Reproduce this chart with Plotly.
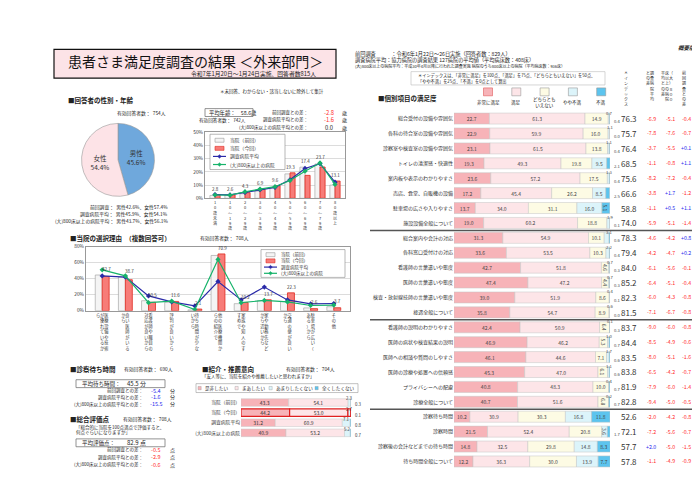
import plotly.graph_objects as go

W, H = 700, 495
FONT = "Noto Sans CJK JP"


def px(x):
    return x / W


def py(y):
    return 1 - y / H


def dx(a, b):
    return [a / W, b / W]


def dy(a, b):
    return [1 - b / H, 1 - a / H]


def vert(label, n=None):
    """Stack characters vertically (Japanese tategaki), columns right-to-left."""
    if n is None:
        n = len(label)
    chunks = [label[i:i + n] for i in range(0, len(label), n)]
    lines = []
    for r in range(n):
        row = ""
        for c in reversed(chunks):
            row += c[r] if r < len(c) else "　"
        lines.append(row)
    return "<br>".join(lines)


# ---------------- data ----------------
gender_labels = ["男性", "女性"]
gender_values = [45.6, 54.4]

age_cats = ["10歳未満", "10～19歳", "20～29歳", "30～39歳", "40～49歳",
            "50～59歳", "60～69歳", "70～79歳", "80歳以上"]
age_prev = [2.2, 2.5, 3.5, 5.5, 8.0, 18.5, 23.6, 26.0, 10.0]
age_now = [2.8, 2.6, 4.3, 6.9, 9.6, 19.3, 17.4, 23.7, 13.1]
age_avg = [2.8, 2.6, 4.5, 6.5, 8.3, 14.0, 22.6, 26.3, 12.2]
age_big = [2.5, 2.4, 5.0, 7.0, 8.8, 13.5, 20.5, 26.8, 10.5]

series_names = ["当院（前回）", "当院（今回）", "調査病院平均", "(大)800床以上の病院"]

reason_cats = ["医療設備や技術が優れているから", "良い医師がいるから", "看護師や職員の対応が良いから",
               "評判が良いから", "待ち時間が少ないから", "他の医療機関からの紹介で",
               "家族や知人のすすめで", "家や勤務先などから近いから", "交通の便が良いから",
               "駐車場が広い（ある）から", "その他"]
reason_prev = [44.6, 42.0, 12.5, 10.5, 1.0, 69.0, 8.8, 12.5, 11.5, 3.5, 5.0]
reason_now = [42.7, 38.7, 10.5, 11.6, 2.1, 70.9, 10.2, 13.7, 22.3, 2.6, 3.7]
reason_avg = [43.4, 42.0, 18.5, 11.0, 6.0, 36.5, 13.5, 29.5, 13.5, 8.5, 9.0]
reason_big = [51.0, 43.5, 10.0, 12.0, 1.5, 64.0, 10.0, 12.8, 11.0, 6.5, 7.0]

rec_rows = ["当院（前回）", "当院（今回）", "調査病院平均", "(大)800床以上の病院"]
rec_names = ["是非したい", "まあしたい", "あまりしたくない", "全くしたくない"]
rec_yes = [43.3, 44.2, 31.2, 40.9]
rec_maybe = [54.1, 53.0, 60.9, 53.2]
rec_rather_not = [2.3, 2.7, 7.1, 5.2]
rec_never = [0.3, 0.1, 0.8, 0.7]

items = ["総合受付の設備や雰囲気", "各科の待合室の設備や雰囲気", "診察室や検査室の設備や雰囲気",
         "トイレの清潔感・快適性", "案内板や表示のわかりやすさ", "売店、食堂、自販機の設備",
         "駐車場の広さや入りやすさ", "施設設備全般について",
         "総合案内や会計の対応", "各科窓口受付けの対応", "看護師の言葉遣いや態度",
         "医師の言葉遣いや態度", "検査・放射線技師の言葉遣いや態度", "接遇全般について",
         "看護師の説明のわかりやすさ", "医師の病状や検査結果の説明", "医師への相談や質問のしやすさ",
         "医師の診療や処置への信頼感", "プライバシーへの配慮", "診療全般について",
         "診察待ち時間", "診察時間", "診察後の会計などまでの待ち時間", "待ち時間全般について"]
group_sizes = [8, 6, 6, 4]
sat_names = ["非常に満足", "満足", "どちらとも<br>いえない", "やや不満", "不満"]
very_sat = [22.7, 22.9, 23.1, 19.3, 23.6, 17.2, 13.7, 19.0,
            31.3, 33.6, 42.7, 47.4, 39.0, 35.8,
            42.4, 46.9, 46.1, 45.3, 40.8, 40.7,
            10.2, 21.5, 14.8, 12.2]
sat = [61.3, 59.9, 61.5, 49.3, 57.2, 45.4, 34.0, 60.2,
       54.9, 53.5, 51.8, 47.2, 51.9, 54.7,
       50.9, 46.2, 44.6, 47.0, 48.3, 51.6,
       30.9, 52.4, 32.5, 36.3]
neutral = [14.9, 16.0, 13.8, 19.8, 17.5, 26.2, 31.1, 18.8,
           10.1, 10.3, 4.6, 4.4, 8.6, 8.9,
           6.4, 5.3, 7.1, 6.1, 10.0, 6.8,
           30.3, 20.8, 29.8, 30.0]
dissat = [0.7, 1.1, 1.1, 9.5, 1.3, 8.5, 16.0, 1.9,
          3.1, 2.2, 0.7, 0.7, 0.4, 0.6,
          0.1, 1.0, 1.7, 1.1, 0.4, 0.2,
          16.8, 3.6, 14.8, 13.9]
very_dissat = [0.4, 0.0, 0.4, 2.1, 0.4, 2.5, 5.1, 0.1,
               0.6, 0.4, 0.3, 0.3, 0.1, 0.0,
               0.3, 0.7, 0.6, 0.6, 0.7, 0.7,
               11.8, 1.7, 8.3, 7.7]
index_vals = [76.3, 75.7, 76.4, 68.5, 75.6, 66.6, 58.8, 74.0,
              78.3, 79.4, 84.0, 85.2, 82.3, 81.5,
              83.7, 84.4, 83.5, 83.8, 81.9, 82.8,
              52.6, 72.1, 57.7, 57.8]
diff_avg = [-6.9, -7.8, -3.7, -1.1, -8.2, -3.8, -1.1, -5.9,
            -4.6, -4.2, -6.1, -6.4, -6.0, -7.1,
            -9.0, -8.5, -8.0, -6.5, -7.9, -9.4,
            -2.0, -7.2, 2.0, -1.1]
diff_big = [-5.1, -7.6, -5.5, -0.8, -7.2, 1.7, 0.5, -5.1,
            -4.2, -4.7, -5.6, -5.1, -4.3, -6.7,
            -6.0, -4.9, -5.1, -4.2, -6.0, -5.0,
            -4.2, -5.6, -5.0, -4.9]
diff_prev = [-0.4, -0.7, 0.1, 1.1, -0.4, -1.2, 1.1, -1.4,
             0.8, 0.2, -0.1, -0.4, -0.8, -0.8,
             -0.8, -0.6, -1.6, -0.7, -1.4, -0.5,
             -0.8, -0.7, -1.5, -0.9]

mean_age, age_diffs = 58.6, [-2.8, -1.6, 0.0]
mean_wait, wait_diffs = 45.5, [-5.4, -1.6, -15.5]
mean_score, score_diffs = 82.9, [-0.5, -2.9, -0.6]

# ---------------- styles ----------------
SAT_COLORS = ["#f7b3b8", "#fde5e8", "#fdfbe4", "#dcf4fa", "#5cc4ee"]
REC_COLORS = ["#f7b3b8", "#fde5e8", "#dcf4fa", "#5cc4ee"]
RED, BLUE = "#ff2a2a", "#2a2aee"
PREV_FILL, PREV_LINE = "#f4f4f4", "#9a9a9a"
NOW_FILL, NOW_LINE = "#f77c78", "#e02a20"
PREV_STYLE = dict(color=PREV_FILL, line=dict(color=PREV_LINE, width=0.6))
NOW_STYLE = dict(color=NOW_FILL, line=dict(color=NOW_LINE, width=0.8))
AVG_COLOR, BIG_COLOR = "#2a2aa8", "#16b36a"

fig = go.Figure()
ann = []
shapes = []


def T(x, y, text, size=5, color="#222", anchor="left", bold=False, **kw):
    if bold:
        text = f"<b>{text}</b>"
    ann.append(dict(x=px(x), y=py(y), xref="paper", yref="paper", text=text,
                    showarrow=False, xanchor=anchor, yanchor="middle",
                    font=dict(size=size, color=color, family=FONT), **kw))


def box(x0, y0, x1, y1, fill="rgba(0,0,0,0)", line="#888", width=0.8, layer="below"):
    shapes.append(dict(type="rect", xref="paper", yref="paper",
                       x0=px(x0), x1=px(x1), y0=py(y1), y1=py(y0),
                       fillcolor=fill, line=dict(color=line, width=width), layer=layer))


def seg(x0, y0, x1, y1, color, width=1.0):
    shapes.append(dict(type="line", xref="paper", yref="paper", x0=px(x0), x1=px(x1),
                       y0=py(y0), y1=py(y1), line=dict(color=color, width=width), layer="above"))


def diamond(cx, cy, r, color):
    path = (f"M {px(cx)},{py(cy - r)} L {px(cx + r)},{py(cy)} "
            f"L {px(cx)},{py(cy + r)} L {px(cx - r)},{py(cy)} Z")
    shapes.append(dict(type="path", xref="paper", yref="paper", path=path,
                       fillcolor=color, line=dict(color=color, width=0.5), layer="above"))


def legend_box(x0, y0, x1, row_h, font=4.8):
    y1 = y0 + row_h * 4 + 3
    box(x0, y0, x1, y1, fill="white", line="#888", width=0.6, layer="above")
    for i, nm in enumerate(series_names):
        yy = y0 + 2 + row_h * (i + 0.5)
        if i == 0:
            box(x0 + 5, yy - 2, x0 + 14, yy + 2, fill=PREV_FILL, line=PREV_LINE, width=0.6, layer="above")
        elif i == 1:
            box(x0 + 5, yy - 2, x0 + 14, yy + 2, fill=NOW_FILL, line=NOW_LINE, width=0.6, layer="above")
        else:
            col = AVG_COLOR if i == 2 else BIG_COLOR
            seg(x0 + 3, yy, x0 + 16, yy, col, 1.2)
            diamond(x0 + 9.5, yy, 1.8, col)
        T(x0 + 18, yy, nm, size=font, color="#333")


def signcol(v, good_low=False):
    if v == 0:
        return "#222"
    neg = v < 0
    if good_low:
        return BLUE if neg else RED
    return RED if neg else BLUE


def fmt(v):
    return f"+{v:.1f}" if v > 0 else f"{v:.1f}"


# ---------------- header / title ----------------
box(46, 38, 328, 67, fill="#fce3e7", line="#111", width=1.2)
T(187, 50, "患者さま満足度調査の結果 ＜外来部門＞", size=14, anchor="center", color="#111")
T(310, 62, "令和7年1月20日～1月24日実施、回答者数815人", size=5.8, anchor="right")
T(318, 81, "＊未回答、わからない・該当しないに除外して集計", size=4.5, anchor="right")
T(58, 89, "■回答者の性別・年齢", size=6.5, bold=True)
T(160, 102, "有効回答者数：  754人", size=4.8, anchor="right")
T(162, 198, "前回調査：  男性42.6%、女性57.4%", size=4.8, anchor="right")
T(162, 205, "調査病院平均：  男性45.9%、女性54.1%", size=4.8, anchor="right")
T(162, 212, "(大)800床以上の病院平均：  男性43.7%、女性56.1%", size=4.8, anchor="right")

# pie
fig.add_trace(go.Pie(
    labels=gender_labels, values=gender_values, sort=False, direction="clockwise",
    marker=dict(colors=["#6fa8dc", "#fde3e7"], line=dict(color="#999", width=0.6)),
    text=[f"{l}<br>{v:.1f}%" for l, v in zip(gender_labels, gender_values)],
    textinfo="text", textposition="inside", insidetextorientation="horizontal",
    textfont=dict(size=6.5, color="#333", family=FONT),
    domain=dict(x=dx(73, 147), y=dy(113, 187)), showlegend=False, hoverinfo="skip"))

# ---------------- age chart ----------------
box(197, 98, 245, 106, line="#777")
T(199, 102, f"平均年齢：　{mean_age}歳", size=5.3)
T(189, 110, "有効回答者数：  742人", size=4.6)
diff_lbls = ["前回調査との差：", "調査病院平均との差：", "(大)800床以上の病院平均との差："]
for i, (lbl, v) in enumerate(zip(diff_lbls, age_diffs)):
    yy = 102 + i * 7.5
    T(302, yy, lbl, size=4.5, anchor="right")
    T(321, yy, f"{v:.1f}", size=5.8, anchor="center", color=signcol(v))
    T(336, yy, "歳", size=5, anchor="center")

fig.add_trace(go.Bar(x=age_cats, y=age_prev, name=series_names[0], xaxis="x2", yaxis="y2",
                     width=0.34, offset=-0.34, marker=PREV_STYLE, hoverinfo="skip"))
fig.add_trace(go.Bar(x=age_cats, y=age_now, name=series_names[1], xaxis="x2", yaxis="y2",
                     width=0.34, offset=0.0, marker=NOW_STYLE, hoverinfo="skip"))
fig.add_trace(go.Scatter(x=age_cats, y=age_avg, name=series_names[2], xaxis="x2", yaxis="y2",
                         mode="lines+markers", line=dict(color=AVG_COLOR, width=1.2),
                         marker=dict(symbol="diamond", size=4, color=AVG_COLOR), hoverinfo="skip"))
fig.add_trace(go.Scatter(x=age_cats, y=age_big, name=series_names[3], xaxis="x2", yaxis="y2",
                         mode="lines+markers", line=dict(color=BIG_COLOR, width=1.2),
                         marker=dict(symbol="diamond", size=4, color=BIG_COLOR), hoverinfo="skip"))
for i, c in enumerate(age_cats):
    top = max(age_prev[i], age_now[i], age_avg[i], age_big[i])
    ann.append(dict(x=c, y=top, xref="x2", yref="y2", text=f"{age_now[i]:.1f}", showarrow=False,
                    yanchor="bottom", yshift=1, font=dict(size=4.5, color="#333", family=FONT)))
legend_box(202, 124, 277, 8.2)

# ---------------- reason chart ----------------
T(60, 229, "■当院の選択理由　（複数回答可）", size=6.5, bold=True)
T(190, 229, "有効回答者数：  708人", size=4.8)
fig.add_trace(go.Bar(x=reason_cats, y=reason_prev, name=series_names[0], xaxis="x3", yaxis="y3",
                     width=0.3, offset=-0.3, marker=PREV_STYLE, hoverinfo="skip"))
fig.add_trace(go.Bar(x=reason_cats, y=reason_now, name=series_names[1], xaxis="x3", yaxis="y3",
                     width=0.3, offset=0.0, marker=NOW_STYLE, hoverinfo="skip"))
fig.add_trace(go.Scatter(x=reason_cats, y=reason_avg, name=series_names[2], xaxis="x3", yaxis="y3",
                         mode="lines+markers", line=dict(color=AVG_COLOR, width=1.2),
                         marker=dict(symbol="diamond", size=4, color=AVG_COLOR), hoverinfo="skip"))
fig.add_trace(go.Scatter(x=reason_cats, y=reason_big, name=series_names[3], xaxis="x3", yaxis="y3",
                         mode="lines+markers", line=dict(color=BIG_COLOR, width=1.2),
                         marker=dict(symbol="diamond", size=4, color=BIG_COLOR), hoverinfo="skip"))
for i, c in enumerate(reason_cats):
    top = max(reason_prev[i], reason_now[i])
    ann.append(dict(x=c, y=top, xref="x3", yref="y3", text=f"{reason_now[i]:.1f}", showarrow=False,
                    yanchor="bottom", yshift=1, xshift=4, font=dict(size=4.5, color="#333", family=FONT)))
legend_box(253, 241, 337, 6.3, font=4.5)

# ---------------- wait time / overall score ----------------
T(60, 362, "■診察待ち時間", size=6.5, bold=True)
T(114, 362, "有効回答者数：  690人", size=4.8)
box(68, 373, 157, 381, line="#777")
T(72, 377, "平均待ち時間：", size=5.5)
T(128, 377, f"{mean_wait} 分", size=6, anchor="center")
for i, (lbl, v) in enumerate(zip(diff_lbls, wait_diffs)):
    yy = 384 + i * 7
    T(137, yy, lbl, size=4.5, anchor="right")
    T(148, yy, f"{v:.1f}", size=5.5, anchor="center", color=signcol(v, good_low=True))
    T(164, yy, "分", size=5, anchor="center")

T(60, 413, "■総合評価点", size=6.5, bold=True)
T(113, 413, "有効回答者数：  708人", size=4.8)
T(66, 421, "「総合的に当院を100点満点で評価すると、", size=4.5)
T(66, 427, "何点ぐらいになりますか」", size=4.5)
box(68, 433, 157, 441, line="#777")
T(72, 437, "平均評価点：", size=5.5)
T(128, 437, f"{mean_score} 点", size=6, anchor="center")
for i, (lbl, v) in enumerate(zip(diff_lbls, score_diffs)):
    yy = 444 + i * 7.5
    T(137, yy, lbl, size=4.5, anchor="right")
    T(148, yy, f"{v:.1f}", size=5.5, anchor="center", color=signcol(v))
    T(164, yy, "点", size=5, anchor="center")

# ---------------- recommendation ----------------
T(192, 362, "■紹介・推薦意向", size=6.5, bold=True)
T(276, 362, "有効回答者数：  704人", size=4.8)
T(192, 370, "「友人等に、当院を紹介や推薦したいと思われますか」", size=4.5)
rec_series = [rec_yes, rec_maybe, rec_rather_not, rec_never]
cum = [0.0] * len(rec_rows)
for k, vals in enumerate(rec_series):
    lc = ["#e02020" if r == "当院（今回）" else "#c8c8c8" for r in rec_rows]
    lw = [1.2 if r == "当院（今回）" else 0.5 for r in rec_rows]
    txt = [f"{v:.1f}" if v >= 8 else "" for v in vals]
    fig.add_trace(go.Bar(y=rec_rows, x=vals, base=list(cum), orientation="h", name=rec_names[k],
                         xaxis="x4", yaxis="y4", width=0.75,
                         marker=dict(color=REC_COLORS[k], line=dict(color=lc, width=lw)),
                         text=txt, textposition="inside", insidetextanchor="middle",
                         textfont=dict(size=5, color="#333", family=FONT), hoverinfo="skip"))
    for j, v in enumerate(vals):
        if k == 2 and v < 8:
            ann.append(dict(x=cum[j] + v / 2, y=rec_rows[j], xref="x4", yref="y4", text=f"{v:.1f}",
                            showarrow=False, yshift=4, font=dict(size=4.3, color="#333", family=FONT)))
        if k == 3:
            ann.append(dict(x=100, y=rec_rows[j], xref="x4", yref="y4", text=f"{v:.1f}",
                            showarrow=False, xanchor="left", xshift=2, yshift=-2,
                            font=dict(size=4.3, color="#333", family=FONT)))
    cum = [c + v for c, v in zip(cum, vals)]
box(188, 377, 350, 386, fill="white", line="#999", width=0.6, layer="above")
for k, (nm, col, lx) in enumerate(zip(rec_names, REC_COLORS, [190, 227, 261, 307])):
    box(lx, 379.8, lx + 3.2, 383.2, fill=col, line="#999", width=0.4, layer="above")
    T(lx + 4.5, 381.5, nm, size=4.6, color="#333")

# ---------------- right side header ----------------
T(345, 42.5, "前回調査　　　：令和6年1月22日～26日実施（回答者数：829人）", size=5.2)
T(345, 48.5, "調査病院平均：協力病院の調査結果 127病院の平均値（平均病床数：408床）", size=5.2)
T(345, 54.5, "(大)800床以上の病院平均：平成30年4月以降に行われた調査実施 病院のうち800床以上の病院（平均病床数：936床）", size=4.0)
T(690, 37, "<i>概要版</i>", size=5.5, anchor="right", bold=True)
box(403, 60.5, 597, 74, line="#bbb", width=0.6)
T(408, 64.3, "＊インデックスは、「非常に満足」を100点、「満足」を75点、「どちらともいえない」を50点、", size=4.2)
T(408, 70.2, "「やや不満」を25点、「不満」を0点として算出", size=4.2)
T(368, 87, "■個別項目の満足度", size=6.5, bold=True)
for k, (nm, col) in enumerate(zip(sat_names, SAT_COLORS)):
    cx = 480 + k * 28.3
    box(cx - 4.5, 77, cx + 4.5, 85, fill=col, line="#e05a5a" if k == 0 else "#999", width=0.6)
    T(cx, 92, nm, size=4.5, anchor="center")

for x, lbl, n in [(618, "＊インデックス", None), (642, "調査病院平均との差", 6),
                  (659, "（大）８００床以上の病院平均との差", 6), (676, "前回調査との差", None)]:
    ann.append(dict(x=px(x), y=py(57), xref="paper", yref="paper", text=vert(lbl, n), showarrow=False,
                    xanchor="center", yanchor="top",
                    font=dict(size=4.0, color="#333", family=FONT)))

# ---------------- right table ----------------
sat_series = [very_sat, sat, neutral, dissat, very_dissat]
cum = [0.0] * len(items)
for k, vals in enumerate(sat_series):
    thr = 3.5
    txt = [f"{v:.1f}" if v >= thr else "" for v in vals]
    fig.add_trace(go.Bar(y=items, x=vals, base=list(cum), orientation="h", name=sat_names[k],
                         xaxis="x5", yaxis="y5", width=0.74,
                         marker=dict(color=SAT_COLORS[k], line=dict(color="#c4c4c4", width=0.5)),
                         text=txt, textposition="inside", insidetextanchor="middle",
                         textfont=dict(size=5, color="#444", family=FONT), hoverinfo="skip"))
    for j, v in enumerate(vals):
        if k == 3 and v < thr:
            ann.append(dict(x=cum[j] + v, y=items[j], xref="x5", yref="y5", text=f"{v:.1f}",
                            showarrow=False, yshift=6, font=dict(size=4.2, color="#444", family=FONT)))
        if k == 4 and v < thr:
            ann.append(dict(x=100, y=items[j], xref="x5", yref="y5", text=f"{v:.1f}",
                            showarrow=False, xanchor="left", xshift=1.5, yshift=-2.5,
                            font=dict(size=4.2, color="#444", family=FONT)))
    cum = [c + v for c, v in zip(cum, vals)]

for j, it in enumerate(items):
    ann.append(dict(x=px(621), y=it, xref="paper", yref="y5", text=f"{index_vals[j]:.1f}",
                    showarrow=False, xanchor="center", font=dict(size=8, color="#333", family=FONT)))
    for xx, vals in [(643, diff_avg), (662, diff_big), (678, diff_prev)]:
        v = vals[j]
        ann.append(dict(x=px(xx), y=it, xref="paper", yref="y5", text=fmt(v), showarrow=False,
                        xanchor="center", font=dict(size=5.3, color=signcol(v), family=FONT)))

pos = -0.5
for g in group_sizes[:-1]:
    pos += g
    shapes.append(dict(type="line", xref="paper", yref="y5", x0=px(362), x1=px(690), y0=pos, y1=pos,
                       line=dict(color="#555", width=1.5)))

# ---------------- layout ----------------
axis_small = dict(tickfont=dict(size=4.8, family=FONT, color="#333"))
fig.update_layout(
    width=W, height=H, autosize=False, margin=dict(l=0, r=0, t=0, b=0),
    paper_bgcolor="white", plot_bgcolor="white", barmode="overlay", showlegend=False,
    font=dict(family=FONT, size=6, color="#222"),
    xaxis2=dict(domain=dx(197, 337), anchor="y2", type="category", tickvals=age_cats,
                ticktext=[vert(c) for c in age_cats], tickfont=dict(size=4, family=FONT, color="#333"),
                showline=True, linecolor="#999", mirror=True, ticks=""),
    yaxis2=dict(domain=dy(122, 189), anchor="x2", range=[0, 50], dtick=10, ticksuffix="%",
                gridcolor="#dcdcdc", showline=True, linecolor="#999", mirror=True, zeroline=False,
                **axis_small),
    xaxis3=dict(domain=dx(78, 342), anchor="y3", type="category", tickvals=reason_cats,
                ticktext=[vert(c, 7) for c in reason_cats], tickfont=dict(size=4.2, family=FONT, color="#333"),
                showline=True, linecolor="#999", mirror=True, ticks=""),
    yaxis3=dict(domain=dy(238, 303), anchor="x3", range=[0, 80], dtick=20, ticksuffix="%",
                gridcolor="#dcdcdc", showline=True, linecolor="#999", mirror=True, zeroline=False,
                **axis_small),
    xaxis4=dict(domain=dx(233, 343), anchor="y4", range=[0, 100], visible=False),
    yaxis4=dict(domain=dy(389, 436), anchor="x4", type="category", autorange="reversed",
                ticks="", showline=False, tickfont=dict(size=4.8, family=FONT, color="#333")),
    xaxis5=dict(domain=dx(446, 602), anchor="y5", range=[0, 100], visible=False),
    yaxis5=dict(domain=dy(100.5, 463.5), anchor="x5", type="category", autorange="reversed",
                ticks="", showline=False, tickfont=dict(size=5, family=FONT, color="#333")),
    uniformtext=dict(minsize=4.5, mode="show"),
    annotations=ann, shapes=shapes,
)
fig.write_html("out.html")
